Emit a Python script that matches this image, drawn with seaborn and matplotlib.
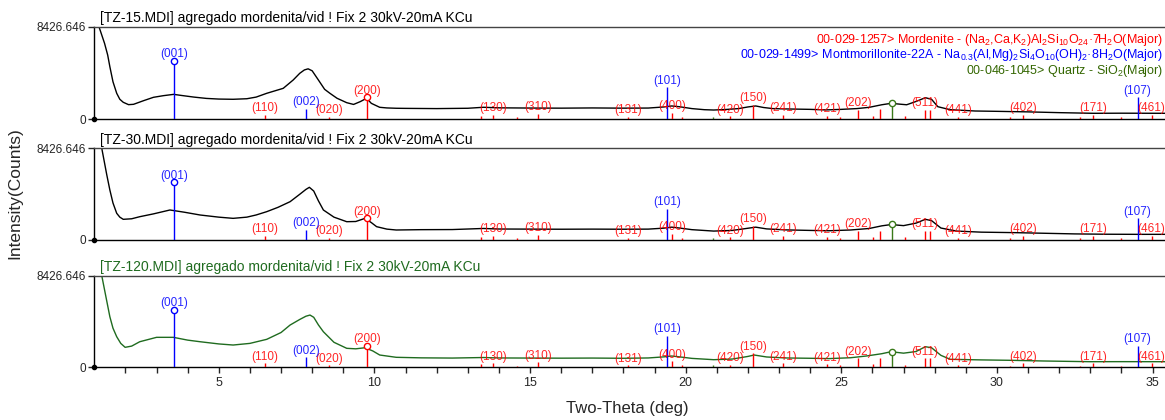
import numpy as np
import pandas as pd
import matplotlib
matplotlib.use("Agg")
import matplotlib.pyplot as plt
import seaborn as sns

# measured patterns (two-theta in deg, intensity in counts)
tt_15 = [1.0, 1.15, 1.33, 1.43, 1.5, 1.6, 1.72, 1.82, 1.93, 2.1, 2.26, 2.58, 2.9, 3.22, 3.55,
         3.8, 4.2, 4.6, 5.0, 5.46, 5.9, 6.2, 6.54, 7.07, 7.39, 7.6, 7.75, 7.87, 8.0, 8.2,
         8.4, 8.57, 8.8, 9.11, 9.33, 9.54, 9.75, 9.9, 10.17, 10.4, 10.7, 11.0, 12.0, 13.0,
         13.5, 14.0, 15.0, 16.0, 17.0, 18.0, 18.8, 19.3, 19.55, 19.8, 20.2, 20.6, 20.9,
         21.3, 21.7, 22.0, 22.25, 22.5, 22.8, 23.2, 24.0, 24.5, 25.0, 25.5, 25.9, 26.3,
         26.6, 26.9, 27.1, 27.4, 27.7, 27.9, 28.1, 28.5, 29.3, 30.0, 31.0, 32.0, 33.1,
         34.0, 35.4]
int_15 = [10500, 8426, 6900, 5840, 4774, 3400, 2346, 1800, 1525, 1310, 1340, 1670, 1980, 2130, 2250,
          2150, 2000, 1880, 1820, 1800, 1850, 2000, 2346, 2800, 3560, 4170, 4480, 4580, 4400, 3560,
          2710, 2346, 1890, 1490, 1330, 1580, 1890, 1430, 1068, 1010, 980, 970, 950, 980,
          1070, 1020, 1000, 990, 1010, 990, 1000, 1100, 1190, 1120, 950, 850, 820,
          870, 950, 1100, 1190, 1050, 950, 920, 880, 830, 880, 950, 1068, 1300,
          1430, 1350, 1300, 1600, 1945, 1800, 1123, 850, 730, 700, 650, 580, 520,
          530, 520]

tt_30 = [1.0, 1.24, 1.4, 1.5, 1.6, 1.72, 1.82, 1.93, 2.2, 2.46, 2.9, 3.43, 3.9, 4.4, 5.0,
         5.46, 5.9, 6.2, 6.54, 6.9, 7.29, 7.6, 7.8, 7.91, 8.05, 8.2, 8.36, 8.7, 9.11, 9.4,
         9.7, 9.9, 10.07, 10.4, 10.7, 11.5, 12.5, 13.5, 14.0, 15.0, 16.0, 17.0, 18.0, 18.8,
         19.3, 19.55, 19.8, 20.2, 20.9, 21.5, 22.0, 22.25, 22.6, 23.2, 24.0, 24.6, 25.3,
         25.9, 26.3, 26.6, 27.0, 27.4, 27.7, 27.9, 28.2, 28.7, 29.5, 30.5, 31.5, 32.5,
         33.5, 34.5, 35.4]
int_30 = [11000, 8426, 6000, 4594, 3400, 2453, 2100, 1900, 1950, 2141, 2400, 2757, 2550, 2297, 2100,
          1990, 2100, 2300, 2604, 3000, 3520, 4200, 4650, 4842, 4500, 3600, 2757, 2100, 1682, 1700,
          1990, 1600, 1225, 1000, 919, 950, 960, 1060, 1010, 1000, 990, 1000, 990, 1000,
          1090, 1180, 1100, 950, 820, 880, 1080, 1180, 1020, 930, 880, 850, 920,
          1060, 1300, 1420, 1320, 1550, 1900, 1780, 1100, 820, 720, 680, 620, 560,
          530, 520, 520]

tt_120 = [1.0, 1.24, 1.4, 1.5, 1.6, 1.72, 1.85, 1.99, 2.2, 2.46, 3.0, 3.54, 4.0, 4.4, 5.0,
          5.46, 6.0, 6.54, 7.0, 7.29, 7.6, 7.8, 7.93, 8.05, 8.2, 8.36, 8.7, 9.11, 9.4, 9.7,
          9.95, 10.17, 10.7, 11.5, 12.5, 13.5, 14.0, 15.0, 16.0, 17.0, 18.0, 18.8, 19.3,
          19.55, 19.8, 20.2, 20.9, 21.5, 22.0, 22.2, 22.6, 23.2, 24.0, 24.6, 25.3, 25.8,
          26.3, 26.6, 27.0, 27.4, 27.7, 27.9, 28.2, 28.5, 29.5, 30.5, 31.5, 33.0, 34.0, 35.4]
int_120 = [11000, 8426, 6100, 4650, 3600, 2812, 2200, 1838, 1950, 2352, 2757, 2757, 2500, 2352, 2150,
           2049, 2200, 2573, 3200, 3887, 4400, 4700, 4806, 4600, 3900, 3271, 2300, 1746, 1700, 1800,
           1500, 1130, 919, 870, 850, 900, 860, 850, 840, 850, 830, 860, 960,
           1038, 960, 820, 700, 760, 1000, 1130, 950, 860, 830, 800, 880, 1038,
           1250, 1434, 1300, 1450, 1894, 1800, 1100, 735, 680, 640, 580, 515, 520, 515]

# reference stick patterns
mord_pos = [6.49, 8.55, 9.75, 13.41, 13.82, 14.57, 15.26, 18.15, 19.57, 19.87, 21.42, 22.17,
            23.13, 24.53, 24.95, 25.54, 26.02, 26.24, 27.04, 27.69, 27.84, 28.75, 30.42,
            30.84, 32.67, 33.09, 34.0, 34.97]
mord_int = [365, 180, 1980, 270, 365, 140, 450, 180, 550, 180, 230, 1280,
            365, 270, 180, 820, 270, 870, 230, 820, 820, 180, 140,
            365, 140, 365, 140, 365]
mord_hkl = ["(110)", "(020)", "(200)", "", "(130)", "", "(310)", "(131)", "(400)", "", "(420)", "(150)",
            "(241)", "(421)", "", "(202)", "", "", "", "(511)", "", "(441)", "",
            "(402)", "", "(171)", "", "(461)"]

mont_pos = [3.57, 7.80, 19.39, 34.52]
mont_int = [5300, 913, 2890, 1980]
mont_hkl = ["(001)", "(002)", "(101)", "(107)"]

qtz_pos = [20.88, 26.62]
qtz_int = [180, 1430]

titles = ["[TZ-15.MDI] agregado mordenita/vid ! Fix 2 30kV-20mA KCu",
          "[TZ-30.MDI] agregado mordenita/vid ! Fix 2 30kV-20mA KCu",
          "[TZ-120.MDI] agregado mordenita/vid ! Fix 2 30kV-20mA KCu"]

ymax = 8426.646
RED = "#ff0000"
BLUE = "#0000ff"
QGREEN = "#3a7a1a"
QTEXT = "#336600"

sns.set_style("ticks")
plt.rcParams["font.family"] = ["Liberation Sans", "DejaVu Sans"]
plt.rcParams["mathtext.fontset"] = "custom"
plt.rcParams["mathtext.rm"] = "Liberation Sans"
plt.rcParams["mathtext.it"] = "Liberation Sans:italic"
plt.rcParams["mathtext.bf"] = "Liberation Sans:bold"
plt.rcParams["mathtext.default"] = "rm"

fig = plt.figure(figsize=(11.65, 4.2), dpi=100)
W, H = 1165.0, 420.0
left = 94.3 / W
boxes = [(26.7, 119.0), (148.3, 240.0), (275.7, 367.3)]

scans = [(tt_15, int_15, "black", "black"),
         (tt_30, int_30, "black", "black"),
         (tt_120, int_120, "#1f6b1f", "#1f6b1f")]


def sticks(ax, pos, inten, color, labels=None, lw=1.0):
    ax.vlines(pos, 0, inten, color=color, lw=lw, zorder=3)
    top = int(np.argmax(inten))
    ax.plot([pos[top]], [inten[top]], "o", ms=4.5, mfc="white", mec=color, mew=1.0, zorder=4)
    if labels is None:
        return
    for p, v, lab in zip(pos, inten, labels):
        if lab:
            ax.annotate(lab, (p, v), xytext=(0, 0.5), textcoords="offset points",
                        ha="center", va="bottom", color=color, fontsize=8.5, alpha=0.85,
                        zorder=5)


for i, ((top, bot), (tt, yy, lc, tc)) in enumerate(zip(boxes, scans)):
    ax = fig.add_axes([left, 1 - bot / H, 1 - left, (bot - top) / H])
    df = pd.DataFrame({"two_theta": tt, "counts": yy})
    sns.lineplot(data=df, x="two_theta", y="counts", ax=ax, color=lc, lw=1.0, zorder=2)
    ax.set_xlim(1.0, 35.4)
    ax.set_ylim(0, ymax)
    ax.set_xlabel("")
    ax.set_ylabel("")
    ax.set_yticks([0, ymax])
    ax.set_yticklabels(["0", "8426.646"], fontsize=8.5)
    ax.tick_params(axis="y", direction="out", length=4, width=1, pad=2)
    ax.spines["right"].set_visible(False)
    ax.spines["top"].set_color("#444444")
    for s in ("left", "bottom"):
        ax.spines[s].set_color("black")
        ax.spines[s].set_linewidth(1.0)
    ax.spines["top"].set_linewidth(1.0)

    sticks(ax, mord_pos, mord_int, RED, mord_hkl)
    sticks(ax, mont_pos, mont_int, BLUE, mont_hkl)
    sticks(ax, qtz_pos, qtz_int, QGREEN)

    ax.plot([1.0], [0], "o", ms=3, color="black", clip_on=False, zorder=6)
    ax.annotate(titles[i], (0, 1), xycoords="axes fraction", xytext=(4, 1),
                textcoords="offset points", ha="left", va="bottom", fontsize=10, color=tc)

    if i < 2:
        ax.tick_params(axis="x", bottom=False, labelbottom=False)
    else:
        ax.set_xticks([5, 10, 15, 20, 25, 30, 35])
        ax.set_xticks(np.arange(2, 36), minor=True)
        ax.tick_params(axis="x", which="both", direction="out", length=4, width=1,
                       labelsize=9, pad=3)

# phase legend in first panel
fig.text(1163 / W, 1 - 42.8 / H,
         "00-029-1257> Mordenite - (Na$_2$,Ca,K$_2$)Al$_2$Si$_{10}$O$_{24}$\u00b77H$_2$O(Major)",
         ha="right", va="baseline", color=RED, fontsize=9)
fig.text(1163 / W, 1 - 57.8 / H,
         "00-029-1499> Montmorillonite-22A - Na$_{0.3}$(Al,Mg)$_2$Si$_4$O$_{10}$(OH)$_2$\u00b78H$_2$O(Major)",
         ha="right", va="baseline", color=BLUE, fontsize=9)
fig.text(1163 / W, 1 - 74.3 / H,
         "00-046-1045> Quartz - SiO$_2$(Major)",
         ha="right", va="baseline", color=QTEXT, fontsize=9)

fig.text(15 / W, 1 - 193 / H, "Intensity(Counts)", rotation=90, ha="center", va="center",
         fontsize=12.5)
fig.text(627 / W, 1 - 409 / H, "Two-Theta (deg)", ha="center", va="center", fontsize=12)

fig.savefig("out.png", dpi=100)
